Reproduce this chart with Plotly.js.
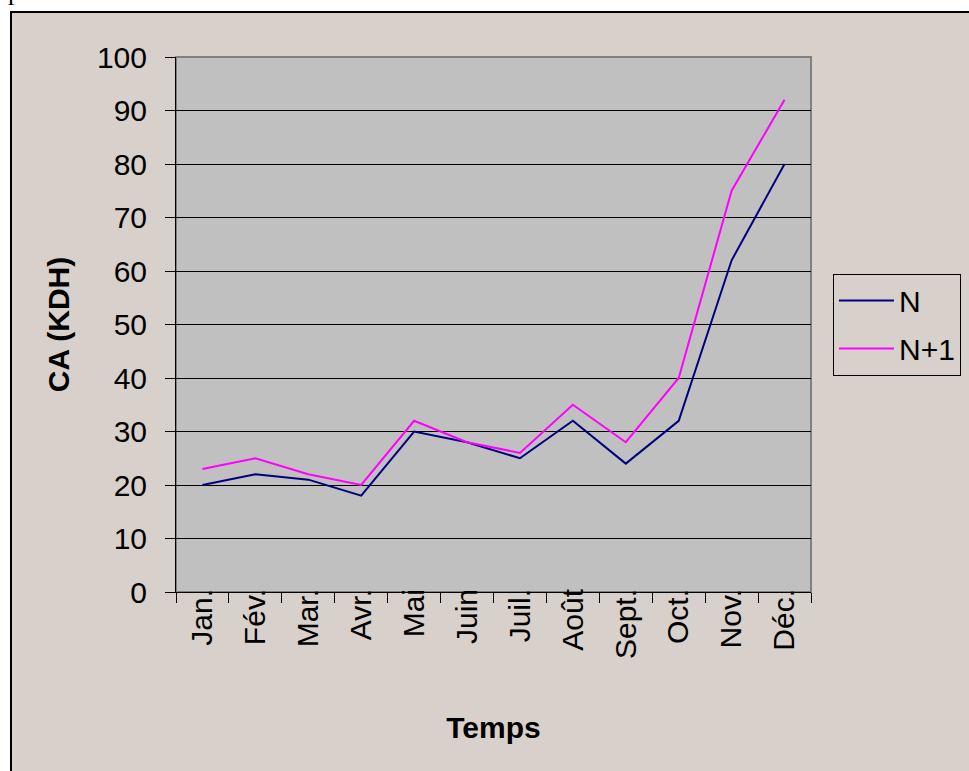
<!DOCTYPE html>
<html>
<head>
<meta charset="utf-8">
<script src="https://cdn.plot.ly/plotly-3.0.1.min.js"></script>
<style>
  html, body { margin: 0; padding: 0; background: #ffffff; overflow: hidden; width: 969px; height: 771px; }
  #frame { position: absolute; left: 10px; top: 11px; width: 960px; height: 760px; border: 2px solid #000; background: #D8D0CA; }
  #chart { width: 960px; height: 760px; }
  #ptxt { position: absolute; left: 8px; top: -21px; font-family: "Liberation Serif", serif; font-size: 26px; color: #000; line-height: 26px; }
</style>
</head>
<body>
<span id="ptxt">p</span>
<div id="frame"><div id="chart"></div></div>
<script>
const months = ["Jan.", "Fév.", "Mar.", "Avr.", "Mai", "Juin", "Juil.", "Août", "Sept.", "Oct.", "Nov.", "Déc."];
const seriesN = [20, 22, 21, 18, 30, 28, 25, 32, 24, 32, 62, 80];
const seriesN1 = [23, 25, 22, 20, 32, 28, 26, 35, 28, 40, 75, 92];
const yTicks = [0, 10, 20, 30, 40, 50, 60, 70, 80, 90, 100];

const font = "Liberation Sans, Arial, sans-serif";

const traces = [
  { x: months, y: seriesN, name: "N", type: "scatter", mode: "lines", legendgroup: "a",
    line: { color: "#000080", width: 2 } },
  { x: months, y: seriesN1, name: "N+1", type: "scatter", mode: "lines", legendgroup: "b",
    line: { color: "#FF00FF", width: 2 } }
];

const layout = {
  width: 960, height: 760,
  margin: { l: 164, r: 160, t: 44, b: 181 },
  paper_bgcolor: "#D8D0CA",
  plot_bgcolor: "#C0C0C0",
  font: { family: font, color: "#000", size: 30 },
  showlegend: true,
  legend: {
    x: 1.033, xanchor: "left", y: 0.50, yanchor: "middle",
    bgcolor: "#D8D0CA", bordercolor: "#000", borderwidth: 1,
    font: { family: font, size: 30, color: "#000" },
    tracegroupgap: 6,
    itemwidth: 55,
    entrywidth: 160
  },
  xaxis: {
    type: "category",
    range: [-0.5, 11.5],
    tickangle: -90,
    ticks: "outside", ticklen: 10, tickcolor: "#000", tickwidth: 1,
    tickson: "boundaries",
    showgrid: false,
    showline: true, linecolor: "#000", linewidth: 1,
    ticklabelstandoff: -16,
    tickfont: { family: font, size: 30 },
    title: { text: "<b>Temps</b>", font: { family: font, size: 30 }, standoff: 58 },
    automargin: false,
    fixedrange: true
  },
  yaxis: {
    range: [0, 100],
    tickvals: yTicks,
    ticktext: yTicks.map(String),
    ticks: "outside", ticklen: 10, tickcolor: "#000", tickwidth: 1,
    showgrid: true, gridcolor: "#000", gridwidth: 1,
    showline: true, linecolor: "#000", linewidth: 1,
    zeroline: false,
    ticklabelstandoff: 12,
    tickfont: { family: font, size: 30 },
    title: { text: "<b>CA (KDH)</b>", font: { family: font, size: 30 }, standoff: 18 },
    automargin: false,
    fixedrange: true
  },
  shapes: [
    { type: "rect", xref: "paper", yref: "paper", x0: 0, x1: 1, y0: 0, y1: 1,
      line: { color: "#808080", width: 2 }, fillcolor: "rgba(0,0,0,0)", layer: "below" }
  ]
};

Plotly.newPlot("chart", traces, layout, { staticPlot: true, displayModeBar: false });
</script>
</body>
</html>
